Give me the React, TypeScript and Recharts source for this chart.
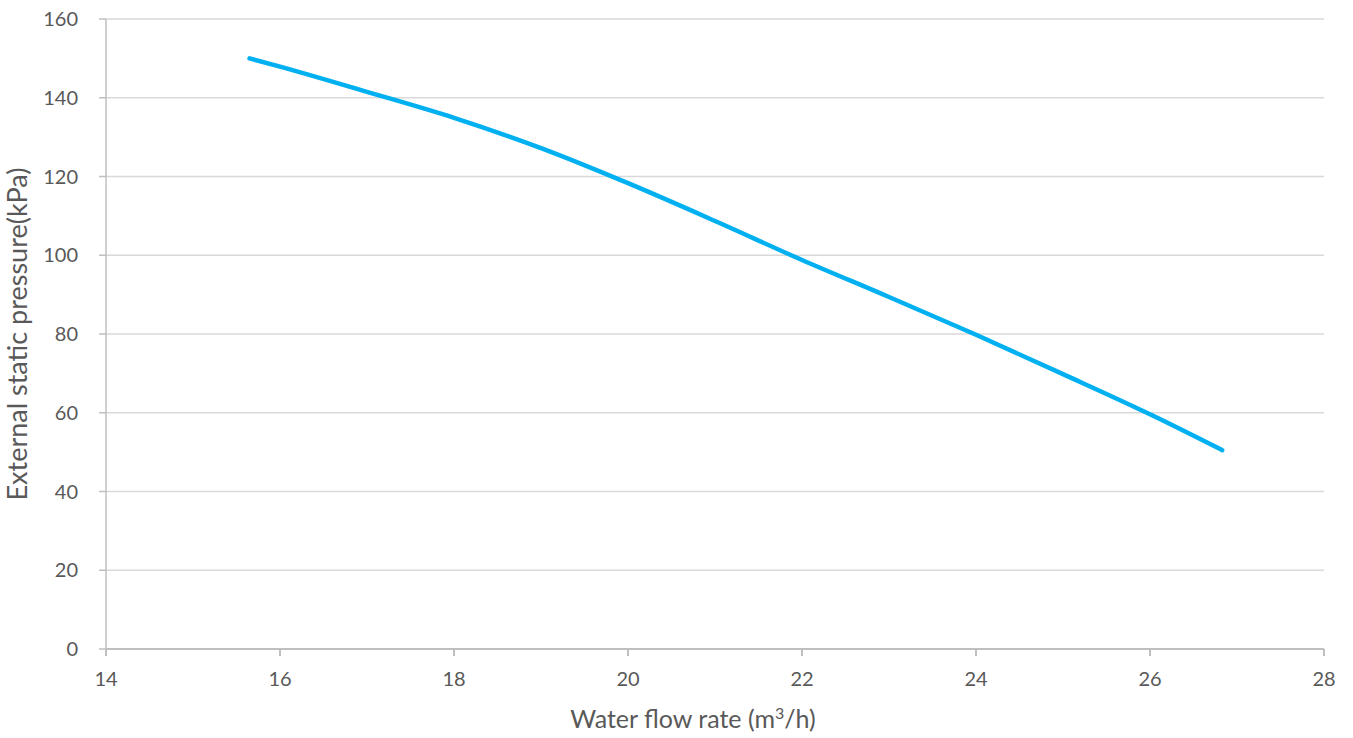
import React from 'react';
import { LineChart, Line, XAxis, YAxis, CartesianGrid, Label } from 'recharts';

const flowRates = [15.65, 16, 17, 18, 19, 20, 21, 22, 23, 24, 25, 26, 26.83];
const pressures = [150, 147.9, 141.5, 134.9, 127.2, 118.3, 108.7, 98.8, 89.4, 79.8, 69.8, 59.6, 50.5];
const xTicks = [14, 16, 18, 20, 22, 24, 26, 28];
const yTicks = [0, 20, 40, 60, 80, 100, 120, 140, 160];

const data = flowRates.map((f, i) => ({ flow: f, pressure: pressures[i] }));

const FONT = 'Lato, sans-serif';
const TEXT = '#595959';

const XLabel = (props: any) => {
  const vb = props.viewBox || {};
  const cx = vb.x + vb.width / 2 - 22;
  return (
    <text x={cx} y={vb.y + 79} textAnchor="middle" fontFamily={FONT} fontSize={25} fill={TEXT}>
      Water flow rate (m
      <tspan dy={-9} fontSize={16}>3</tspan>
      <tspan dy={9}>/h)</tspan>
    </text>
  );
};

const YLabel = (props: any) => {
  const vb = props.viewBox || {};
  const cy = vb.y + vb.height / 2;
  const x = 27;
  return (
    <text x={x} y={cy} textAnchor="middle" fontFamily={FONT} fontSize={27} fill={TEXT}
      transform={`rotate(-90, ${x}, ${cy})`}>
      External static pressure(kPa)
    </text>
  );
};

export default function App() {
  return (
    <div style={{ position: 'absolute', left: 0, top: 0, background: '#fff' }}>
      <LineChart width={1353} height={738} data={data} margin={{ top: 19, right: 29, left: 0, bottom: 0 }}>
        <CartesianGrid horizontal vertical={false} stroke="#d9d9d9" strokeWidth={1.5} />
        <XAxis
          dataKey="flow"
          type="number"
          domain={[14, 28]}
          ticks={xTicks}
          height={89}
          stroke="#bfbfbf"
          strokeWidth={2}
          tickSize={7}
          tickMargin={16}
          tick={{ fill: TEXT, fontSize: 20, fontFamily: FONT }}
          interval={0}
        >
          <Label content={XLabel} />
        </XAxis>
        <YAxis
          type="number"
          domain={[0, 160]}
          ticks={yTicks}
          width={106}
          stroke="#bfbfbf"
          strokeWidth={1.5}
          tickSize={7}
          tickMargin={21}
          tick={{ fill: TEXT, fontSize: 20, fontFamily: FONT }}
          interval={0}
        >
          <Label content={YLabel} />
        </YAxis>
        <Line
          dataKey="pressure"
          type="monotone"
          stroke="#00B0F0"
          strokeWidth={4.5}
          strokeLinecap="round"
          dot={false}
          activeDot={false}
          isAnimationActive={false}
        />
      </LineChart>
    </div>
  );
}
